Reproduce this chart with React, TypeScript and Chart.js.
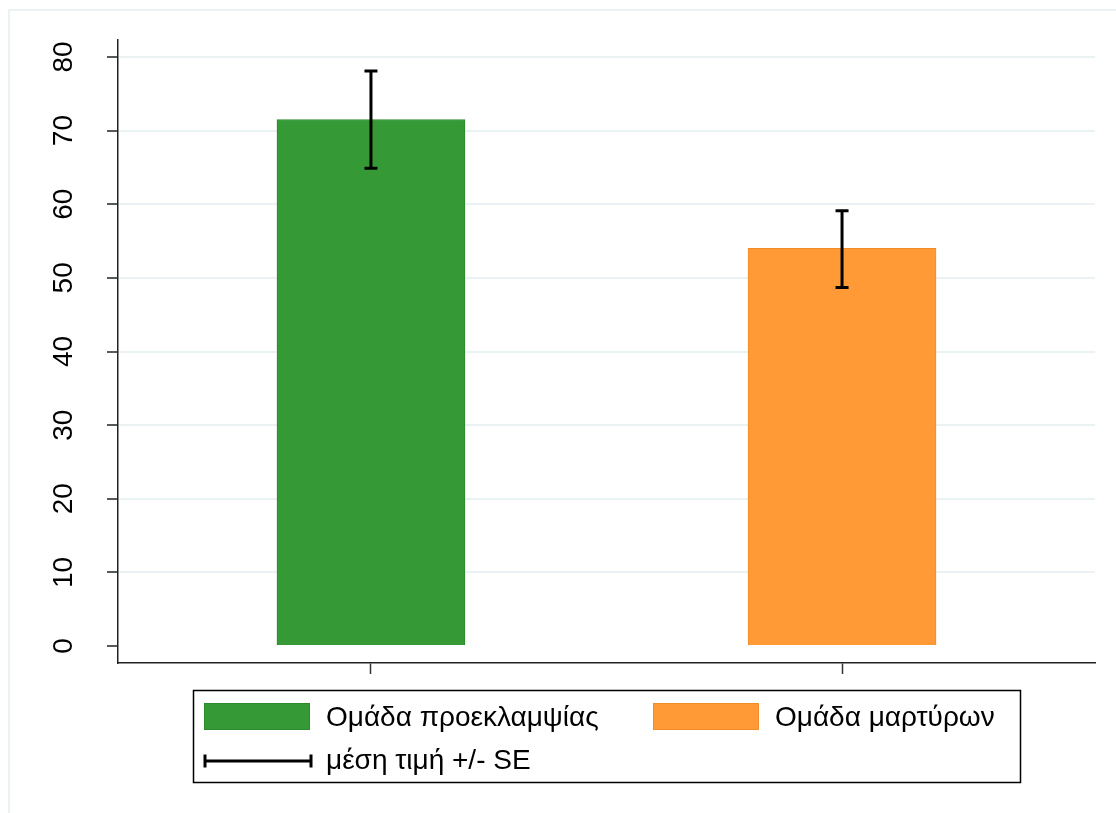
import React, { useEffect, useRef } from "react";
import { Chart, registerables } from "chart.js";

Chart.register(...registerables);

const categories = ["Ομάδα προεκλαμψίας", "Ομάδα μαρτύρων"];
const means = [71.5, 54.0];
const errLow = [64.9, 48.7];
const errHigh = [78.1, 59.1];
const yTicks = [0, 10, 20, 30, 40, 50, 60, 70, 80];
const errLabel = "μέση τιμή +/- SE";

const FILLS = ["#359a35", "#ff9a37"];
const BORDERS = ["#2c8a2c", "#f28c28"];
const FONT = '"Liberation Sans", Arial, sans-serif';

export default function App() {
  const ref = useRef<HTMLCanvasElement | null>(null);
  useEffect(() => {
    if (!ref.current) return;
    const framePlugin = {
      id: "frame",
      beforeDraw(chart: any) {
        const c = chart.ctx;
        c.save();
        c.fillStyle = "#ffffff";
        c.fillRect(0, 0, chart.width, chart.height);
        c.strokeStyle = "#eaf2f3";
        c.lineWidth = 2;
        c.strokeRect(9, 10, 1300, 1300);
        c.restore();
      },
    };
    const yLabelPlugin = {
      id: "yLabels",
      afterDraw(chart: any) {
        const c = chart.ctx;
        const ys = chart.scales.y;
        c.save();
        c.fillStyle = "#000";
        c.font = `28px ${FONT}`;
        c.textAlign = "center";
        c.textBaseline = "alphabetic";
        ys.ticks.forEach((t: any) => {
          const py = ys.getPixelForValue(t.value);
          c.save();
          c.translate(72, py);
          c.rotate(-Math.PI / 2);
          c.fillText(String(t.value), 0, 0);
          c.restore();
        });
        c.restore();
      },
    };
    const errPlugin = {
      id: "errBars",
      afterDatasetsDraw(chart: any) {
        const c = chart.ctx;
        const xs = chart.scales.x;
        const ys = chart.scales.y;
        c.save();
        c.strokeStyle = "#000";
        c.lineWidth = 3;
        means.forEach((_, i) => {
          const px = xs.getPixelForValue(i);
          const yl = ys.getPixelForValue(errLow[i]);
          const yh = ys.getPixelForValue(errHigh[i]);
          c.beginPath();
          c.moveTo(px, yl);
          c.lineTo(px, yh);
          c.moveTo(px - 6.5, yl);
          c.lineTo(px + 6.5, yl);
          c.moveTo(px - 6.5, yh);
          c.lineTo(px + 6.5, yh);
          c.stroke();
        });
        c.restore();
      },
    };
    const legendPlugin = {
      id: "customLegend",
      afterDraw(chart: any) {
        const c = chart.ctx;
        c.save();
        c.strokeStyle = "#000";
        c.lineWidth = 1.5;
        c.strokeRect(193.5, 690.5, 827, 92);
        const sw = [204, 653];
        const tx = [326, 775];
        categories.forEach((lab, i) => {
          c.fillStyle = FILLS[i];
          c.fillRect(sw[i], 703, 106, 27);
          c.strokeStyle = BORDERS[i];
          c.lineWidth = 1;
          c.strokeRect(sw[i] + 0.5, 703.5, 105, 26);
          c.fillStyle = "#000";
          c.font = `28px ${FONT}`;
          c.textAlign = "left";
          c.textBaseline = "middle";
          c.fillText(lab, tx[i], 718);
        });
        c.strokeStyle = "#000";
        c.lineWidth = 3;
        c.beginPath();
        c.moveTo(205, 761);
        c.lineTo(311, 761);
        c.moveTo(205, 754.5);
        c.lineTo(205, 767.5);
        c.moveTo(311, 754.5);
        c.lineTo(311, 767.5);
        c.stroke();
        c.fillStyle = "#000";
        c.fillText(errLabel, 326, 761);
        c.restore();
      },
    };
    const chart = new Chart(ref.current, {
      type: "bar",
      data: {
        datasets: [
          {
            label: "means",
            data: means.map((v, i) => ({ x: i, y: v })),
            backgroundColor: FILLS,
            borderColor: BORDERS,
            borderWidth: 1,
            barThickness: 188,
          } as any,
        ],
      },
      options: {
        animation: false,
        responsive: false,
        devicePixelRatio: 1,
        layout: { padding: { top: 40, right: 21, left: 0, bottom: 0 } },
        plugins: { legend: { display: false }, tooltip: { enabled: false } },
        scales: {
          x: {
            type: "linear",
            offset: false,
            min: -0.537,
            max: 1.537,
            afterBuildTicks: (s: any) => {
              s.ticks = means.map((_, i) => ({ value: i }));
            },
            afterFit: (s: any) => {
              s.height = 150;
            },
            ticks: { display: false },
            grid: {
              offset: false,
              drawOnChartArea: false,
              drawTicks: true,
              tickLength: 11,
              tickColor: "#333",
              tickWidth: 1.5,
            },
            border: { display: true, color: "#222", width: 1.5 },
          },
          y: {
            type: "linear",
            min: -2.3,
            max: 82.3,
            afterBuildTicks: (s: any) => {
              s.ticks = yTicks.map((v) => ({ value: v }));
            },
            afterFit: (s: any) => {
              s.width = 118;
            },
            ticks: { display: false },
            grid: {
              color: (ctx: any) => (ctx.tick && ctx.tick.value === 0 ? "rgba(0,0,0,0)" : "#eaf2f3"),
              lineWidth: 2,
              drawTicks: true,
              tickLength: 11,
              tickColor: "#222",
              tickWidth: 1.5,
            },
            border: { display: true, color: "#222", width: 1.5 },
          },
        },
      } as any,
      plugins: [framePlugin, yLabelPlugin, errPlugin, legendPlugin],
    });
    return () => chart.destroy();
  }, []);
  return (
    <div style={{ position: "fixed", left: 0, top: 0, width: 1116, height: 813, background: "#fff" }}>
      <canvas ref={ref} width={1116} height={813} style={{ display: "block" }} />
    </div>
  );
}
